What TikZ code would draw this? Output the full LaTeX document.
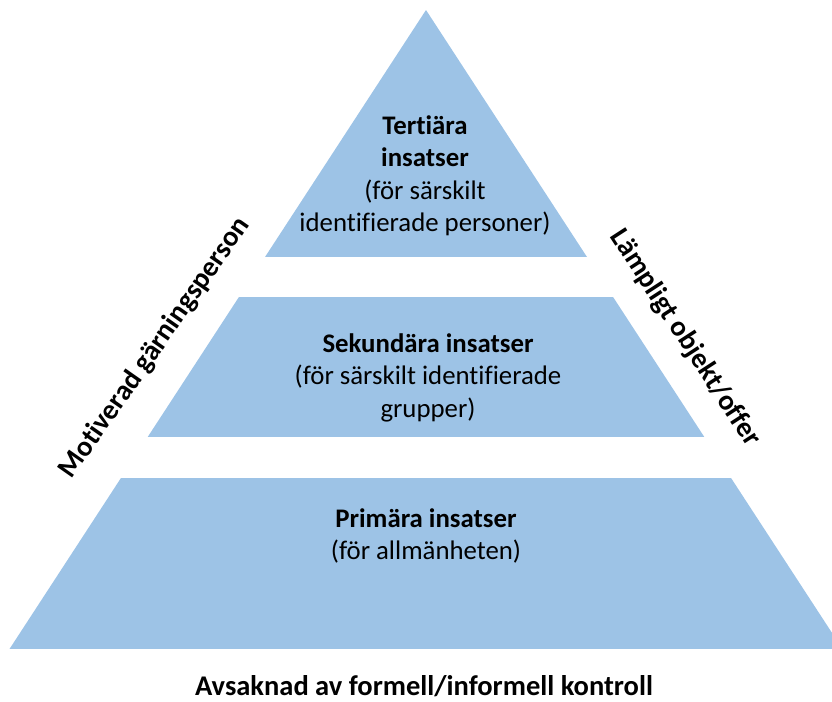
\documentclass[tikz,border=0pt]{standalone}
\usepackage{fontspec}
\setmainfont{Carlito}[Ligatures=NoCommon]
\usepackage{tikz}
\usetikzlibrary{positioning, calc}
\definecolor{pyBlue}{RGB}{157, 195, 230}
\definecolor{pyText}{RGB}{0, 0, 0}
\tikzset{
    base/.style={
        font=\fontsize{26.8}{32.5}\selectfont,
        align=center,
        text=pyText,
        inner sep=0pt
    },
    tier/.style={
        fill=pyBlue
    },
    tiertext/.style={
        base,
        anchor=north
    },
    sidelabel/.style={
        base,
        font=\fontsize{28.5}{34}\selectfont\bfseries
    }
}

\begin{document}
\begin{tikzpicture}[x=1pt, y=-1pt]
  \useasboundingbox (0,0) rectangle (832,701);

  % Pyramid corners
  \coordinate (apex) at (426,10);
  \coordinate (bl) at (9.5,649);
  \coordinate (br) at (842.5,649);

  % Tiers (the pyramid cut by two white bands)
  \begin{scope}
    \clip (0,0) rectangle (832,701);
    \clip (apex) -- (bl) -- (br) -- cycle;
    \fill[tier] (0,10) rectangle (832,257);
    \fill[tier] (0,297) rectangle (832,437);
    \fill[tier] (0,478) rectangle (832,649);
  \end{scope}

  % Tier texts
  \node[tiertext] (tertiary) at (425,115) {
      \textbf{Tertiära}\\
      \textbf{insatser}\\
      (för särskilt\\
      identifierade personer)
  };
  \node[tiertext] (secondary) at (428,333) {
      \textbf{Sekundära insatser}\\
      (för särskilt identifierade\\
      grupper)
  };
  \node[tiertext] (primary) at (426,508) {
      \textbf{Primära insatser}\\
      (för allmänheten)
  };

  % Side labels
  \node[sidelabel, rotate=55] (offender) at (155,348) {Motiverad gärningsperson};
  \node[sidelabel, rotate=-57] (target) at (685,338) {Lämpligt objekt/offer};
  \node[sidelabel, anchor=base] (control) at (424,695) {Avsaknad av formell/informell kontroll};
\end{tikzpicture}
\end{document}
